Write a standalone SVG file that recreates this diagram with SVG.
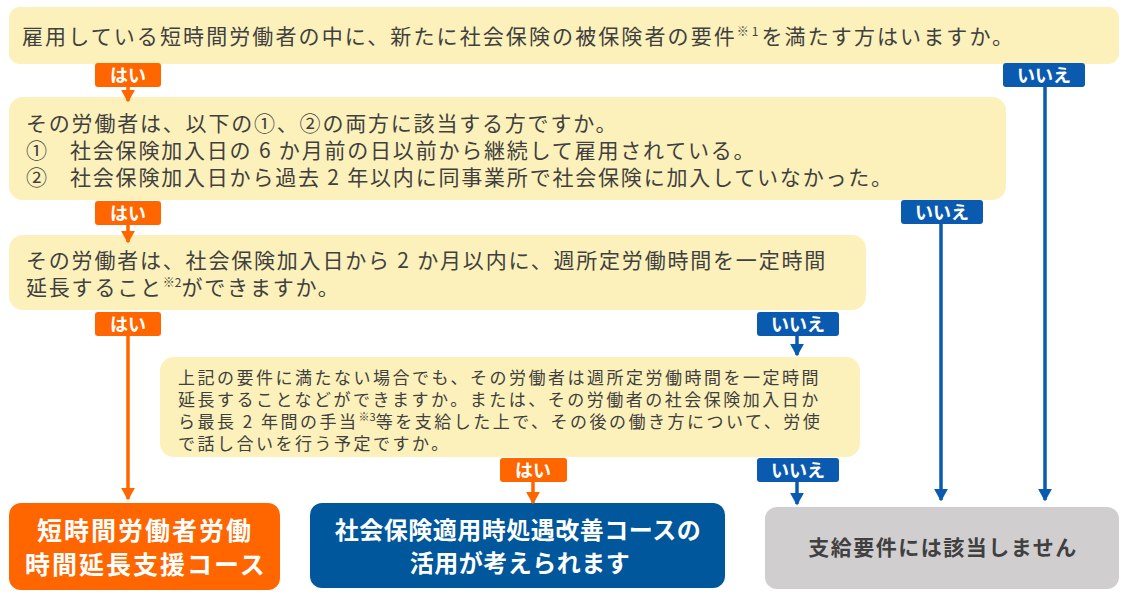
<svg xmlns="http://www.w3.org/2000/svg" width="1126" height="596" viewBox="0 0 1126 596">
<defs>
<style>
.q{fill:#FCF1BA}
.t{font-family:"Noto Sans CJK JP","Noto Sans",sans-serif;fill:#404040;font-size:21px;letter-spacing:1.8px}
.s{font-family:"Noto Sans CJK JP","Noto Sans",sans-serif;fill:#404040;font-size:17px;letter-spacing:2.5px}
.sup{font-size:12px;letter-spacing:0}
.lbl{font-family:"Noto Sans CJK JP","Noto Sans",sans-serif;fill:#fff;font-size:18px;font-weight:bold;text-anchor:middle}
.yes{fill:#FF6600}
.no{fill:#0A5BB0}
.big{font-family:"Noto Sans CJK JP","Noto Sans",sans-serif;fill:#fff;font-weight:bold;text-anchor:middle}
.lo{stroke:#FF6600;stroke-width:3.5;fill:none}
.lb{stroke:#0A5BB0;stroke-width:3.5;fill:none}
</style>
<marker id="ao" markerWidth="4" markerHeight="4" refX="3.2" refY="2" orient="auto" markerUnits="strokeWidth" viewBox="0 0 4 4"><path d="M0,0 L3.6,2 L0,4 Z" fill="#FF6600"/></marker>
<marker id="ab" markerWidth="4" markerHeight="4" refX="3.2" refY="2" orient="auto" markerUnits="strokeWidth" viewBox="0 0 4 4"><path d="M0,0 L3.6,2 L0,4 Z" fill="#0A5BB0"/></marker>
</defs>
<rect width="1126" height="596" fill="#fff"/>

<g id="q1">
<rect class="q" x="9" y="7" width="1110" height="57" rx="11"/>
<text class="t" x="22" y="44" style="letter-spacing:2.1px">雇用している短時間労働者の中に、新たに社会保険の被保険者の要件<tspan class="sup" dy="-8" style="letter-spacing:3px">※1</tspan><tspan dy="8" style="letter-spacing:2.1px">を満たす方はいますか。</tspan></text>
</g>

<g id="q2">
<rect class="q" x="9" y="97" width="997" height="103" rx="14"/>
<text class="t" x="26" y="131">その労働者は、以下の①、②の両方に該当する方ですか。</text>
<text class="t" x="26" y="158">①</text>
<text class="t" x="70" y="158">社会保険加入日の 6 か月前の日以前から継続して雇用されている。</text>
<text class="t" x="26" y="185">②</text>
<text class="t" x="70" y="185">社会保険加入日から過去 2 年以内に同事業所で社会保険に加入していなかった。</text>
</g>

<g id="q3">
<rect class="q" x="9" y="235" width="857" height="75" rx="14"/>
<text class="t" x="26" y="268">その労働者は、社会保険加入日から 2 か月以内に、週所定労働時間を一定時間</text>
<text class="t" x="26" y="295">延長すること<tspan class="sup" dy="-8">※2</tspan><tspan dy="8">ができますか。</tspan></text>
</g>

<g id="q4">
<rect class="q" x="160" y="357" width="700" height="100" rx="14"/>
<text class="s" x="178" y="384">上記の要件に満たない場合でも、その労働者は週所定労働時間を一定時間</text>
<text class="s" x="178" y="406">延長することなどができますか。または、その労働者の社会保険加入日か</text>
<text class="s" x="178" y="428">ら最長 2 年間の手当<tspan class="sup" style="font-size:11px" dy="-7">※3</tspan><tspan dy="7">等を支給した上で、その後の働き方について、労使</tspan></text>
<text class="s" x="178" y="450">で話し合いを行う予定ですか。</text>
</g>

<g id="r1">
<rect class="yes" x="9" y="503" width="271" height="87" rx="12"/>
<text class="big" x="145" y="540" style="font-size:25px;letter-spacing:2px">短時間労働者労働</text>
<text class="big" x="146" y="574" style="font-size:25px;letter-spacing:2px">時間延長支援コース</text>
</g>

<g id="r2">
<rect x="310" y="503" width="415" height="85" rx="12" fill="#00579B"/>
<text class="big" x="518" y="539" style="font-size:24px;letter-spacing:0.5px">社会保険適用時処遇改善コースの</text>
<text class="big" x="520" y="572" style="font-size:24px;letter-spacing:0.5px">活用が考えられます</text>
</g>

<g id="r3">
<rect x="765" y="507" width="354" height="82" rx="12" fill="#D0CECF"/>
<text x="943" y="555" style="font-family:'Noto Sans CJK JP','Noto Sans',sans-serif;font-size:21px;font-weight:bold;fill:#404040;text-anchor:middle;letter-spacing:1.5px">支給要件には該当しません</text>
</g>

<g id="connectors">
<line class="lo" x1="128" y1="86" x2="128" y2="101" marker-end="url(#ao)"/>
<line class="lb" x1="1045" y1="86" x2="1045" y2="500" marker-end="url(#ab)"/>
<line class="lo" x1="128" y1="224" x2="128" y2="242" marker-end="url(#ao)"/>
<line class="lb" x1="941" y1="223" x2="941" y2="500" marker-end="url(#ab)"/>
<line class="lo" x1="128" y1="335" x2="128" y2="499" marker-end="url(#ao)"/>
<line class="lb" x1="797" y1="335" x2="797" y2="355" marker-end="url(#ab)"/>
<line class="lo" x1="533" y1="481" x2="533" y2="503" marker-end="url(#ao)"/>
<line class="lb" x1="797" y1="481" x2="797" y2="504" marker-end="url(#ab)"/>
</g>

<g id="labels">
<g id="yes1"><rect class="yes" x="95" y="63" width="66" height="24" rx="3"/><text class="lbl" x="128" y="81.5">はい</text></g>
<g id="no1"><rect class="no" x="1003" y="63" width="82" height="24" rx="3"/><text class="lbl" x="1044" y="81.5">いいえ</text></g>
<g id="yes2"><rect class="yes" x="95" y="201" width="66" height="24" rx="3"/><text class="lbl" x="128" y="219.5">はい</text></g>
<g id="no2"><rect class="no" x="901" y="200" width="82" height="24" rx="3"/><text class="lbl" x="942" y="218.5">いいえ</text></g>
<g id="yes3"><rect class="yes" x="95" y="312" width="66" height="24" rx="3"/><text class="lbl" x="128" y="330.5">はい</text></g>
<g id="no3"><rect class="no" x="757" y="312" width="82" height="24" rx="3"/><text class="lbl" x="798" y="330.5">いいえ</text></g>
<g id="yes4"><rect class="yes" x="500" y="458" width="67" height="24" rx="3"/><text class="lbl" x="533" y="476.5">はい</text></g>
<g id="no4"><rect class="no" x="757" y="458" width="82" height="24" rx="3"/><text class="lbl" x="798" y="476.5">いいえ</text></g>
</g>
</svg>
